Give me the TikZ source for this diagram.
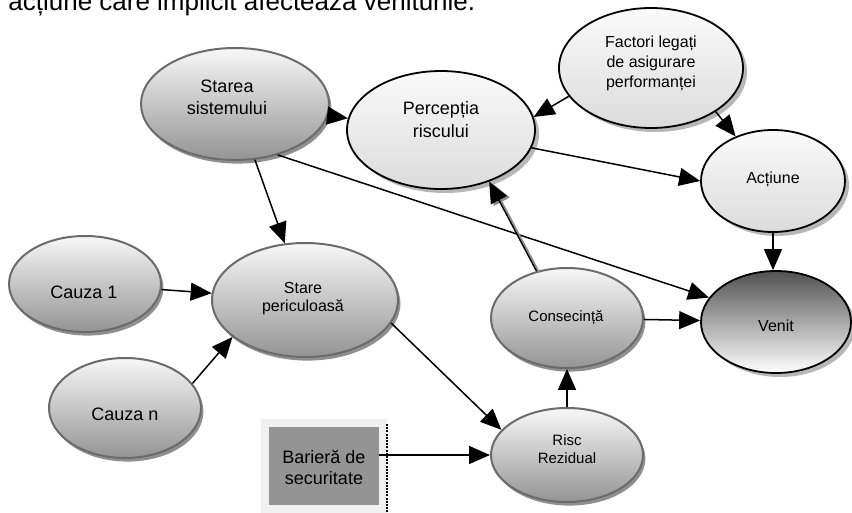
\documentclass[tikz,border=0pt]{standalone}
\usepackage{fontspec}
\setmainfont{Liberation Sans}
\usetikzlibrary{shapes.geometric,arrows.meta,shadows}
\begin{document}
\begin{tikzpicture}[x=0.5pt,y=-0.5pt,
  greyoval/.style={ellipse, inner sep=0pt, draw=black!58, line width=1pt,
    top color=black!3, bottom color=black!42,
    drop shadow={shadow xshift=1.2pt, shadow yshift=-1.8pt, fill=black!55, opacity=0.8}},
  whiteoval/.style={ellipse, inner sep=0pt, draw=black, line width=0.9pt,
    top color=black!2, bottom color=black!14,
    drop shadow={shadow xshift=2pt, shadow yshift=-2pt, fill=black!40, opacity=0.7}},
  darkoval/.style={ellipse, inner sep=0pt, draw=black, line width=0.9pt,
    top color=black!68, bottom color=white,
    drop shadow={shadow xshift=2pt, shadow yshift=-2pt, fill=black!40, opacity=0.7}},
  lbl/.style={align=center, inner sep=0pt},
  conn/.style={-{Triangle[length=10.5pt,width=9pt]}, line width=0.75pt},
]
\useasboundingbox (0,0) rectangle (852,513);

% line of running text above the figure
\node[anchor=base west, inner sep=0pt, font=\fontsize{13}{15}\selectfont] (title) at (8,11)
  {acțiune care implicit afectează veniturile.};

% ovals
\node[greyoval, minimum width=94pt, minimum height=56pt] (starea) at (235,104) {};
\node[lbl, font=\fontsize{9}{11}\selectfont] (starea-t) at (227,97) {Starea\\sistemului};

\node[whiteoval, minimum width=94pt, minimum height=59pt] (perc) at (441,130) {};
\node[lbl, font=\fontsize{9}{11.5}\selectfont] (perc-t) at (441,120) {Percepția\\riscului};

\node[whiteoval, minimum width=92pt, minimum height=60pt] (factori) at (651,68) {};
\node[lbl, font=\fontsize{8}{10}\selectfont] (factori-t) at (651,63) {Factori legați\\de asigurare\\performanței};

\node[whiteoval, minimum width=72pt, minimum height=51pt] (act) at (773,181) {};
\node[lbl, font=\fontsize{8}{10}\selectfont] (act-t) at (773,179) {Acțiune};

\node[darkoval, minimum width=75pt, minimum height=51pt] (venit) at (776,322) {};
\node[lbl, font=\fontsize{8}{10}\selectfont] (venit-t) at (776,326) {Venit};

\node[greyoval, minimum width=76pt, minimum height=50pt] (cons) at (567,318) {};
\node[lbl, font=\fontsize{7.5}{9}\selectfont] (cons-t) at (566,318) {Consecință};

\node[greyoval, minimum width=76pt, minimum height=47pt] (risc) at (567,455) {};
\node[lbl, font=\fontsize{7.5}{9}\selectfont] (risc-t) at (567,449) {Risc\\Rezidual};

\node[greyoval, minimum width=93pt, minimum height=57pt] (stare) at (305,300) {};
\node[lbl, font=\fontsize{8}{9}\selectfont] (stare-t) at (303,299) {Stare\\periculoasă};

\node[greyoval, minimum width=76pt, minimum height=48pt] (cauza1) at (85,284) {};
\node[lbl, font=\fontsize{9}{11}\selectfont] (cauza1-t) at (84,292) {Cauza 1};

\node[greyoval, minimum width=76pt, minimum height=50pt] (cauzan) at (125,408) {};
\node[lbl, font=\fontsize{9}{11}\selectfont] (cauzan-t) at (125,414) {Cauza n};

% barrier block
\fill[black!6] (261,419) rectangle (387,520);
\draw[line width=0.6pt, dash pattern=on 1pt off 0.6pt] (387,424) -- (387,520);
\node[rectangle, fill=black!42, minimum width=55pt, minimum height=39pt, inner sep=0pt] (barrier) at (324,466) {};
\node[lbl, font=\fontsize{9}{10.5}\selectfont] (barrier-t) at (324,467) {Barieră de\\securitate};

% connectors
\draw[conn] (starea) -- (perc);
\draw[conn] (starea) -- (stare);
\draw[conn] (starea.-50) -- (venit.160);
\draw[conn] (factori.199) -- (perc.8);
\draw[conn] (factori.-34) -- (act.130);
\draw[conn] (perc) -- (act.west);
\draw[conn] (act.south) -- (act.south |- venit.north);
\draw[conn] (cauza1) -- (stare);
\draw[conn] (cauzan.20) -- (stare.207);
\draw[conn] (stare.-15) -- (risc.159);
\draw[conn] (barrier.east |- risc.west) -- (risc.west);
\draw[conn] (risc) -- (cons);
\draw[conn] (cons) -- (venit);
\draw[conn, draw=black!45, transform canvas={xshift=1.4pt, yshift=-0.8pt}] (cons.123) -- (perc.-47);
\draw[conn] (cons.123) -- (perc.-47);
\end{tikzpicture}
\end{document}
